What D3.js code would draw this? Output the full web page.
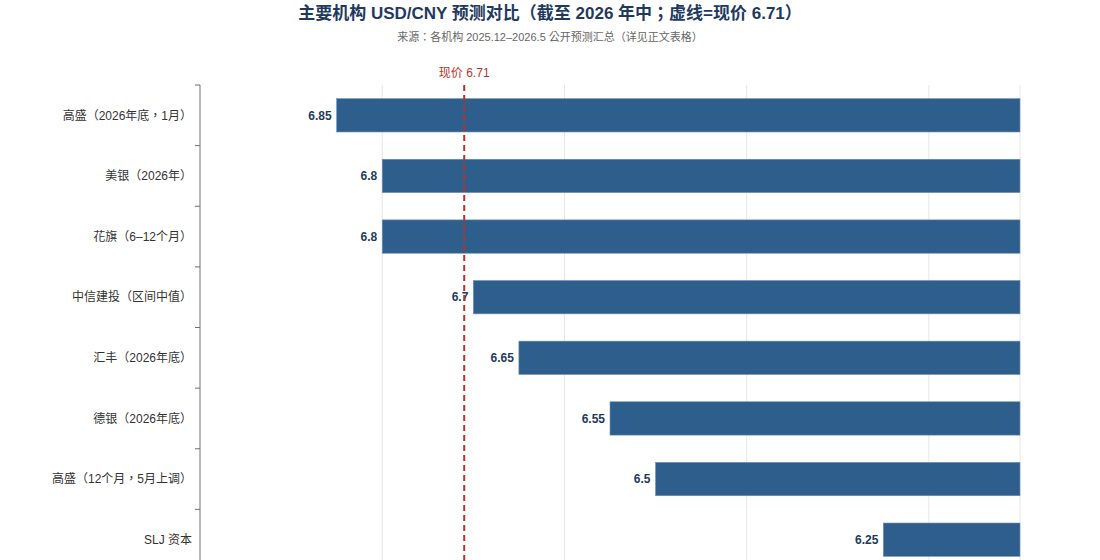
<!DOCTYPE html>
<html>
<head>
<meta charset="utf-8">
<script src="https://cdn.jsdelivr.net/npm/d3@7"></script>
<style>
  html, body { margin: 0; padding: 0; background: #fff; }
  svg { display: block; font-family: "Liberation Sans", Arial, "Noto Sans CJK TC", sans-serif; }
</style>
</head>
<body>
<svg id="chart"></svg>
<script>
const categories = [
  "高盛（2026年底，1月）",
  "美银（2026年）",
  "花旗（6–12个月）",
  "中信建投（区间中值）",
  "汇丰（2026年底）",
  "德银（2026年底）",
  "高盛（12个月，5月上调）",
  "SLJ 资本"
];
const forecasts = [6.85, 6.8, 6.8, 6.7, 6.65, 6.55, 6.5, 6.25];
const spotRate = 6.71;
const gridTicks = [6.8, 6.6, 6.4, 6.2, 6.1];

const width = 1100, height = 560;
const margin = { top: 85, right: 80, left: 200 };
const plotBottom = 570;
const svg = d3.select("#chart").attr("width", width).attr("height", height);

const xScale = d3.scaleLinear().domain([7.0, 6.1]).range([margin.left, width - margin.right]);
const yScale = d3.scaleBand().domain(categories).range([margin.top, plotBottom])
  .paddingInner(0.45).paddingOuter(0.225);

// title
svg.append("text").attr("x", width / 2).attr("y", 19).attr("text-anchor", "middle")
  .attr("font-size", 17).attr("font-weight", "bold").attr("fill", "#1f3a5f")
  .text("主要机构 USD/CNY 预测对比（截至 2026 年中；虚线=现价 6.71）");
svg.append("text").attr("x", width / 2).attr("y", 41).attr("text-anchor", "middle")
  .attr("font-size", 11).attr("fill", "#666")
  .text("来源：各机构 2025.12–2026.5 公开预测汇总（详见正文表格）");

// grid
svg.append("g").selectAll("line")
  .data(gridTicks)
  .join("line")
  .attr("x1", d => xScale(d)).attr("x2", d => xScale(d))
  .attr("y1", margin.top).attr("y2", plotBottom)
  .attr("stroke", "#e6e6e6");

// bars
svg.append("g").selectAll("rect")
  .data(forecasts)
  .join("rect")
  .attr("x", d => xScale(d))
  .attr("y", (d, i) => yScale(categories[i]))
  .attr("width", d => xScale(6.1) - xScale(d))
  .attr("height", yScale.bandwidth())
  .attr("fill", "#2e5e8c")
  .attr("stroke", "#6f8fb0").attr("stroke-width", 0.6);

// value labels
svg.append("g").selectAll("text")
  .data(forecasts)
  .join("text")
  .attr("x", d => xScale(d) - 5)
  .attr("y", (d, i) => yScale(categories[i]) + yScale.bandwidth() / 2)
  .attr("dy", "0.35em").attr("text-anchor", "end")
  .attr("font-size", 12).attr("font-weight", "bold").attr("fill", "#1f3a5f")
  .text(d => d);

// y axis
const yAxis = svg.append("g");
yAxis.append("line").attr("x1", margin.left).attr("x2", margin.left)
  .attr("y1", margin.top).attr("y2", plotBottom).attr("stroke", "#6e7079");
yAxis.selectAll("line.tick")
  .data(d3.range(categories.length + 1))
  .join("line").attr("class", "tick")
  .attr("x1", margin.left - 5).attr("x2", margin.left)
  .attr("y1", i => margin.top + i * yScale.step())
  .attr("y2", i => margin.top + i * yScale.step())
  .attr("stroke", "#6e7079");
yAxis.selectAll("text")
  .data(categories)
  .join("text")
  .attr("x", margin.left - 8)
  .attr("y", d => yScale(d) + yScale.bandwidth() / 2)
  .attr("dy", "0.35em").attr("text-anchor", "end")
  .attr("font-size", 12).attr("fill", "#333")
  .text(d => d);

// spot rate line
svg.append("line")
  .attr("x1", xScale(spotRate)).attr("x2", xScale(spotRate))
  .attr("y1", margin.top).attr("y2", plotBottom)
  .attr("stroke", "#b8322a").attr("stroke-width", 2).attr("stroke-dasharray", "6,4");
svg.append("text").attr("x", xScale(spotRate)).attr("y", 77).attr("text-anchor", "middle")
  .attr("font-size", 12).attr("fill", "#b8322a").text("现价 " + spotRate);
</script>
</body>
</html>
